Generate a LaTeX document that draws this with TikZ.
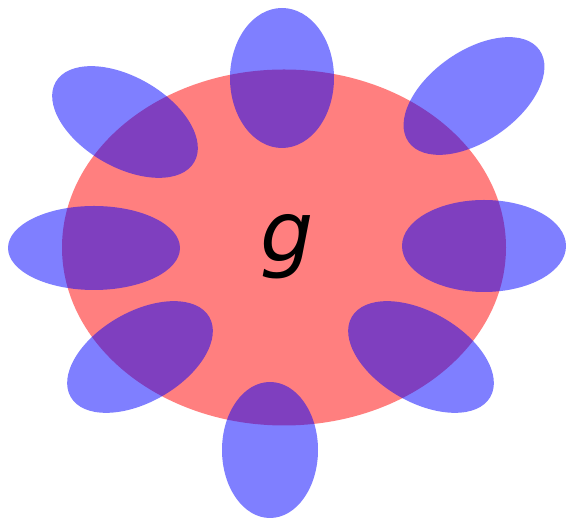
\documentclass[tikz,border=0pt]{standalone}
\usepackage{fontspec}
\setmainfont{DejaVu Sans}
\begin{document}
\begin{tikzpicture}[x=1pt,y=1pt,
  core/.style={fill=red,fill opacity=0.5},
  petal/.style={fill=blue,fill opacity=0.5}]
\useasboundingbox (0,0) rectangle (568,518);
\fill[core] (284,270.5) ellipse [x radius=222, y radius=178];
\fill[petal] (282,440) ellipse [x radius=52, y radius=70];
\fill[petal] (270,68) ellipse [x radius=48, y radius=68];
\fill[petal] (94,270) ellipse [x radius=86, y radius=42];
\fill[petal] (484,272) ellipse [x radius=82, y radius=46];
\fill[petal,rotate around={-30:(125,396)}] (125,396) ellipse [x radius=80, y radius=45];
\fill[petal,rotate around={35:(474,422)}] (474,422) ellipse [x radius=80, y radius=45];
\fill[petal,rotate around={30:(140,161)}] (140,161) ellipse [x radius=80, y radius=45];
\fill[petal,rotate around={-30:(421,161)}] (421,161) ellipse [x radius=80, y radius=45];
\node[anchor=base,inner sep=0pt,font=\fontsize{84}{90}\selectfont\itshape] (g) at (287,256) {g};
\end{tikzpicture}
\end{document}
